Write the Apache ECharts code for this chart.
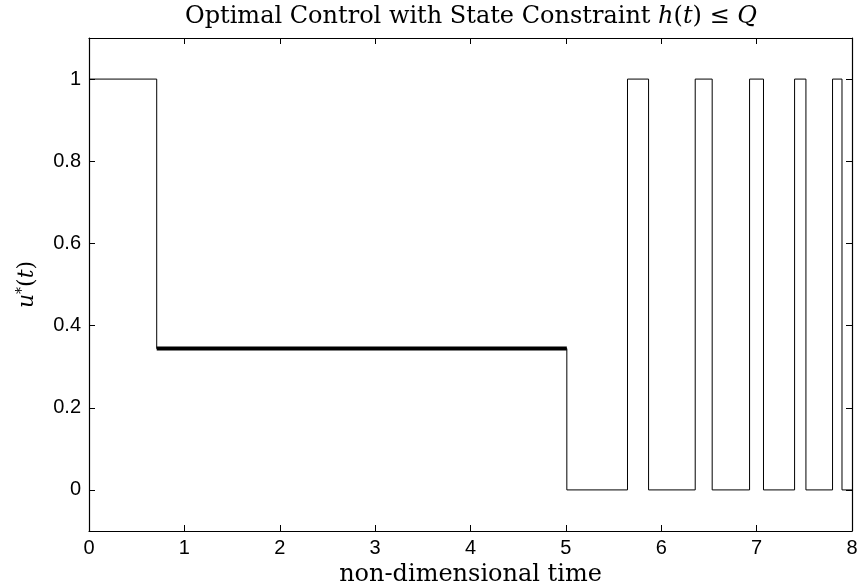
<!DOCTYPE html>
<html>
<head>
<meta charset="utf-8">
<script src="https://cdn.jsdelivr.net/npm/echarts@6/dist/echarts.min.js"></script>
</head>
<body style="margin:0;background:#fff;">
<div id="main" style="width:860px;height:588px;"></div>
<script type="text/javascript">
    // switching times of the control and the level it holds from that time on
    var stepTimes = [0, 0.71, 5.01, 5.646, 5.867, 6.356, 6.534, 6.926, 7.072, 7.398, 7.517, 7.796, 7.895, 8];
    var stepValues = [1, 0.344, 0, 1, 0, 1, 0, 1, 0, 1, 0, 1, 0, 0];
    // singular arc, drawn thick
    var arcIndex = 1;
    // tick labels
    var xTicks = [0, 1, 2, 3, 4, 5, 6, 7, 8];
    var yTicks = [0, 0.2, 0.4, 0.6, 0.8, 1];

    var stepData = [];
    for (var i = 0; i < stepTimes.length; i++) {
        stepData.push([stepTimes[i], stepValues[i]]);
    }
    var arcData = [
        [stepTimes[arcIndex], stepValues[arcIndex]],
        [stepTimes[arcIndex + 1], stepValues[arcIndex]]
    ];

    var serif = 'DejaVu Serif';
    var sans = 'Liberation Sans';
    var tickStyle = {show: true, inside: true, length: 6, lineStyle: {color: '#000', width: 1}};
    var lineStyle = {color: '#000', width: 1.2};

    var chart = echarts.init(document.getElementById('main'));
    var options = {
        backgroundColor: '#fff',
        animation: false,
        title: {
            text: 'Optimal Control with State Constraint {i|h}({i|t}) ≤ {i|Q}',
            left: 466,
            textAlign: 'center',
            top: 0,
            textStyle: {
                fontFamily: serif, fontWeight: 'normal', fontSize: 24, color: '#000',
                rich: {i: {fontFamily: serif, fontStyle: 'italic', fontSize: 24, color: '#000'}}
            }
        },
        grid: {left: 89, right: 8, top: 38, bottom: 57, outerBoundsMode: 'none'},
        xAxis: [{
            type: 'value', min: 0, max: 8, interval: 1,
            name: 'non-dimensional time',
            nameLocation: 'middle', nameGap: 29,
            nameTextStyle: {fontFamily: serif, fontSize: 24, color: '#000'},
            axisLine: {show: true, onZero: false, lineStyle: lineStyle},
            axisTick: tickStyle,
            axisLabel: {fontFamily: sans, fontSize: 20, color: '#000', margin: 7,
                formatter: function (v) { return xTicks.indexOf(v) >= 0 ? String(v) : ''; }},
            splitLine: {show: false}
        }, {
            type: 'value', min: 0, max: 8, interval: 1, position: 'top',
            axisLine: {show: true, onZero: false, lineStyle: lineStyle},
            axisTick: tickStyle,
            axisLabel: {show: false},
            splitLine: {show: false}
        }],
        yAxis: [{
            type: 'value', min: -0.1, max: 1.1,
            name: '{i|u}{s|*}({i|t})',
            nameLocation: 'middle', nameGap: 50, nameRotate: 90,
            nameTextStyle: {
                fontFamily: serif, fontSize: 22, color: '#000',
                rich: {
                    i: {fontFamily: serif, fontStyle: 'italic', fontSize: 22, color: '#000'},
                    s: {fontFamily: serif, fontSize: 14, color: '#000', verticalAlign: 'top', padding: [0, 0, 10, 0]}
                }
            },
            axisLine: {show: true, onZero: false, lineStyle: lineStyle},
            axisTick: {show: true, inside: true, length: 6, lineStyle: {color: '#000', width: 1}, customValues: yTicks},
            axisLabel: {fontFamily: sans, fontSize: 20, color: '#000', margin: 8, customValues: yTicks,
                formatter: function (v) { return String(Math.round(v * 10) / 10); }},
            splitLine: {show: false}
        }, {
            type: 'value', min: -0.1, max: 1.1, position: 'right',
            axisLine: {show: true, onZero: false, lineStyle: lineStyle},
            axisTick: {show: true, inside: true, length: 6, lineStyle: {color: '#000', width: 1}, customValues: yTicks},
            axisLabel: {show: false},
            splitLine: {show: false}
        }],
        series: [{
            type: 'line',
            step: 'end',
            data: stepData,
            symbol: 'none',
            lineStyle: {color: '#000', width: 1}
        }, {
            type: 'line',
            data: arcData,
            symbol: 'none',
            lineStyle: {color: '#000', width: 4}
        }]
    };
    chart.setOption(options);
</script>
</body>
</html>
